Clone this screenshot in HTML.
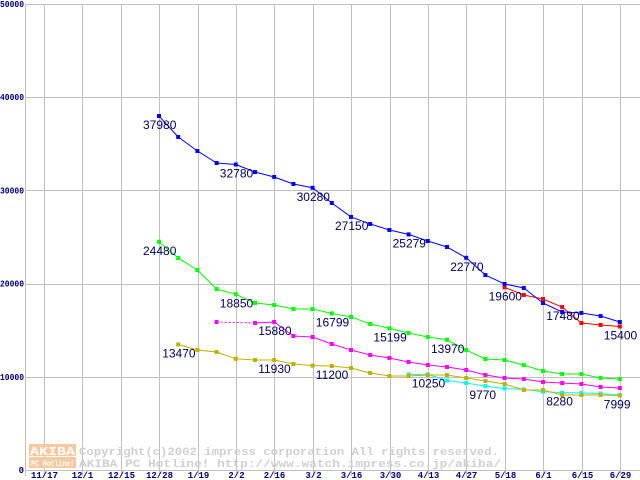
<!DOCTYPE html>
<html><head><meta charset="utf-8"><style>
html,body{margin:0;padding:0;background:#fff;}
svg{display:block;font-family:"Liberation Mono","DejaVu Sans Mono",monospace;}
</style></head><body>
<svg id="chart" width="640" height="480" viewBox="0 0 640 480" xmlns="http://www.w3.org/2000/svg">
<g id="grid"></g>
<g id="wm">
<rect x="29" y="444" width="47" height="12" fill="#f8c8a0"/>
<text x="30" y="455" font-size="12" font-weight="bold" fill="#fff" textLength="45" lengthAdjust="spacingAndGlyphs">AKIBA</text>
<rect x="29" y="457" width="47" height="11" fill="#f8c8a0"/>
<text x="31" y="466" font-size="8" font-weight="bold" fill="#fff" textLength="43" lengthAdjust="spacingAndGlyphs">PC Hotline!</text>
<text x="79" y="455" font-size="11" font-weight="bold" fill="#d0d0d0" textLength="420" lengthAdjust="spacingAndGlyphs">Copyright(c)2002 impress corporation All rights reserved.</text>
<text x="79" y="467" font-size="11" font-weight="bold" fill="#d0d0d0" textLength="422" lengthAdjust="spacingAndGlyphs">AKIBA PC Hotline! http://www.watch.impress.co.jp/akiba/</text>
</g>
<g id="series"></g>
<g id="labels"></g>
</svg>
<script>
const xTickLabels=["11/17","12/1","12/15","12/28","1/19","2/2","2/16","3/2","3/16","3/30","4/13","4/27","5/18","6/1","6/15","6/29"];
const yTicks=[0,10000,20000,30000,40000,50000];
const blueValues=[37980,35730,34230,32940,32780,31970,31440,30690,30280,28650,27150,26400,25750,25279,24570,23930,22770,20920,19960,19530,17920,16950,16850,16520,15880];
const redValues=[null,null,null,null,null,null,null,null,null,null,null,null,null,null,null,null,null,null,19600,18780,18350,17480,15770,15560,15400];
const greenValues=[24480,22750,21460,19420,18850,17920,17700,17270,17270,16799,16420,15670,15199,14700,14270,13970,12880,11910,11800,11250,10620,10300,10300,9870,9760];
const magentaValues=[null,null,null,15880,null,15770,15880,14380,14270,13520,12880,12340,12020,11590,11270,11050,10730,10190,9870,9760,9440,9330,9230,8910,8800];
const oliveValues=[null,13470,12880,12660,11930,11800,11800,11370,11200,11160,10940,10410,10090,10090,10190,10190,9870,9550,9230,8580,8580,8050,8050,8050,7999];
const cyanValues=[null,null,null,null,null,null,null,null,null,null,null,null,null,10250,10250,9600,9330,9000,8750,8650,8400,8300,8280,8200,8050];
const blueLabels=[[0,"37980"],[4,"32780"],[8,"30280"],[10,"27150"],[13,"25279"],[16,"22770"]];
const redLabels=[[18,"19600"],[21,"17480"],[24,"15400"]];
const greenLabels=[[0,"24480"],[4,"18850"],[9,"16799"],[12,"15199"],[15,"13970"]];
const magentaLabels=[[6,"15880"]];
const oliveLabels=[[1,"13470"],[6,"11930"],[9,"11200"],[24,"7999"]];
const cyanLabels=[[14,"10250"],[17,"9770"],[21,"8280"]];

const NS="http://www.w3.org/2000/svg";
function X(k){return 159+k*19.2;}
function Y(v){return 470-v*0.00932;}
function mk(tag,attrs,parent){const e=document.createElementNS(NS,tag);for(const a in attrs)e.setAttribute(a,attrs[a]);parent.appendChild(e);return e;}
const grid=document.getElementById('grid');
yTicks.forEach(v=>{
 const l=mk('line',{x1:25,x2:640,y1:Math.round(Y(v))+0.5,y2:Math.round(Y(v))+0.5,stroke:'#c0c0c0','stroke-width':1},grid);
 
 
 const s=String(v);
 const attrs={x:24,y:Y(v)+3,'font-size':9,'font-weight':'bold','text-anchor':'end',fill:'#000080'};
 if(s.length>1){attrs.textLength=s.length*4.8;attrs.lengthAdjust='spacingAndGlyphs';}
 const t=mk('text',attrs,grid);
 t.textContent=s;
 
 
});
const ax=mk('line',{x1:25.5,x2:25.5,y1:4,y2:476,stroke:'#c0c0c0'},grid);


xTickLabels.forEach((s,i)=>{
 const x=Math.round(44+i*38.4)+0.5;
 const l=mk('line',{x1:x,x2:x,y1:4,y2:476,stroke:'#c0c0c0'},grid);
 
 
 const t=mk('text',{x:x,y:478,'font-size':9,'font-weight':'bold','text-anchor':'middle',fill:'#000080'},grid);
 t.textContent=s;
 
 
});
const sg=document.getElementById('series');
function drawSeries(vals,color,name){
 const g=mk('g',{},sg);
 
 
 let prev=null,gap=false;
 vals.forEach((v,k)=>{
  if(v==null){if(prev)gap=true;return;}
  if(prev){
   const l=mk('line',{x1:X(prev[0]),y1:Y(prev[1]),x2:X(k),y2:Y(v),stroke:color,'stroke-width':1},g);
   if(gap)l.setAttribute('stroke-dasharray','2,2');
   
   
  }
  prev=[k,v];gap=false;
 });
 vals.forEach((v,k)=>{
  if(v==null)return;
  const r=mk('rect',{x:X(k)-2,y:Y(v)-2,width:4,height:4,fill:color},g);
  
  
 });
}
drawSeries(cyanValues,'#00ffff','cyan-series');
drawSeries(oliveValues,'#c0b000','olive-series');
drawSeries(magentaValues,'#ff00ff','magenta-series');
drawSeries(greenValues,'#00ff00','green-series');
drawSeries(redValues,'#ff0000','red-series');
drawSeries(blueValues,'#0000ff','blue-series');
const lg=document.getElementById('labels');
function drawLabels(lbls,vals){
 lbls.forEach(([k,s])=>{
  const t=mk('text',{x:X(k)-16,y:Y(vals[k])+13,'font-size':12,fill:'#000060','font-family':'Liberation Sans, sans-serif'},lg);
  t.textContent=s;
  
  
 });
}
drawLabels(blueLabels,blueValues);
drawLabels(redLabels,redValues);
drawLabels(greenLabels,greenValues);
drawLabels(magentaLabels,magentaValues);
drawLabels(oliveLabels,oliveValues);
drawLabels(cyanLabels,cyanValues);
</script>
</body></html>
